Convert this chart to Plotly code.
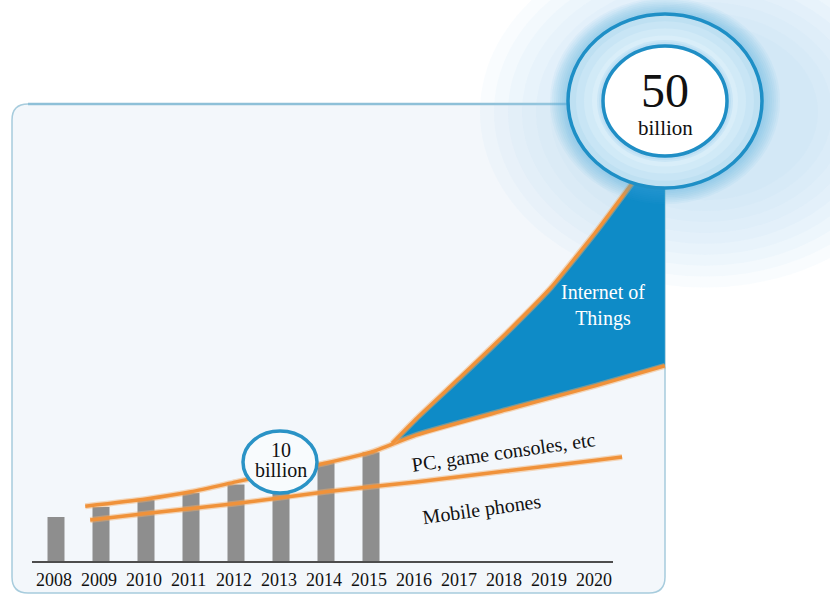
import plotly.graph_objects as go

# ---------------- data ----------------
bar_years = [2008, 2009, 2010, 2011, 2012, 2013, 2014, 2015]
bar_devices = [5.0, 6.1, 6.9, 7.7, 8.6, 9.9, 11.0, 12.2]          # billions (approx.)

pc_years = [2008.65, 2010, 2011, 2012, 2013, 2014, 2015, 2016, 2018, 2020, 2021.53]
pc_values = [6.2, 7.0, 7.8, 8.9, 10.0, 11.0, 12.2, 14.1, 16.9, 19.6, 21.8]

iot_years = [2015.47, 2016, 2017, 2018, 2019, 2020, 2020.82]
iot_values = [13.2, 15.9, 20.6, 25.4, 30.5, 36.7, 42.2]

mobile_years = [2008.76, 2010, 2012, 2014, 2016, 2018, 2020, 2020.58]
mobile_values = [4.67, 5.4, 6.5, 7.8, 8.9, 10.1, 11.3, 11.67]

tick_years = list(range(2008, 2021))
tick_labels = [str(y) for y in tick_years]

# ---------------- geometry helpers (pixel -> data) ----------------
W, H = 830, 594
X0_PX, PX_PER_YEAR = 56, 45
BASE_PX, PX_PER_B = 562, 9


def X(px):
    return 2008 + (px - X0_PX) / PX_PER_YEAR


def Y(py):
    return (BASE_PX - py) / PX_PER_B


def ellipse(cx, cy, rx, ry, fill, line_color=None, lw=0, opacity=1.0, layer="above"):
    return dict(type="circle", xref="x", yref="y",
                x0=X(cx - rx), x1=X(cx + rx), y0=Y(cy + ry), y1=Y(cy - ry),
                fillcolor=fill, opacity=opacity, layer=layer,
                line=dict(width=lw, color=line_color or "rgba(0,0,0,0)"))


ORANGE = "#F0923A"
BLUE = "#0E8BC7"
RING = "#1E8FC6"
FONT = "Liberation Serif"

fig = go.Figure()

# IoT filled area (between IoT curve and PC line)
lower = [(x, y) for x, y in zip(pc_years, pc_values) if x >= 2016][::-1]
poly_x = iot_years + [2021.53, 2021.53] + [p[0] for p in lower] + [iot_years[0]]
poly_y = iot_values + [45, pc_values[-1]] + [p[1] for p in lower] + [iot_values[0]]
fig.add_trace(go.Scatter(x=poly_x, y=poly_y, fill="toself", fillcolor=BLUE,
                         mode="lines", line=dict(width=0, color=BLUE),
                         hoverinfo="skip", showlegend=False))

# bars
fig.add_trace(go.Bar(x=bar_years, y=bar_devices, width=17 / PX_PER_YEAR,
                     marker=dict(color="#8E8E8E", line=dict(width=0)),
                     showlegend=False, hoverinfo="skip"))

# lines (soft halo + core)
for xs, ys, sm in [(pc_years, pc_values, 0.6),
                   (iot_years, iot_values, 0.4),
                   (mobile_years, mobile_values, 0.5)]:
    fig.add_trace(go.Scatter(x=xs, y=ys, mode="lines",
                             line=dict(color="rgba(245,170,100,0.45)", width=6, shape="spline", smoothing=sm),
                             hoverinfo="skip", showlegend=False))
    fig.add_trace(go.Scatter(x=xs, y=ys, mode="lines",
                             line=dict(color=ORANGE, width=3.5, shape="spline", smoothing=sm),
                             hoverinfo="skip", showlegend=False))

shapes = []

# panel (rounded rectangle)
L, T, R, B, r = 12, 104, 665, 593, 16
path = (f"M {X(L + r)},{Y(T)} L {X(R - r)},{Y(T)} Q {X(R)},{Y(T)} {X(R)},{Y(T + r)} "
        f"L {X(R)},{Y(B - r)} Q {X(R)},{Y(B)} {X(R - r)},{Y(B)} "
        f"L {X(L + r)},{Y(B)} Q {X(L)},{Y(B)} {X(L)},{Y(B - r)} "
        f"L {X(L)},{Y(T + r)} Q {X(L)},{Y(T)} {X(L + r)},{Y(T)} Z")
shapes.append(dict(type="path", path=path, xref="x", yref="y", layer="below",
                   fillcolor="#F3F7FB", line=dict(color="#A7CCDD", width=1.5)))
# stronger top border
shapes.append(dict(type="line", xref="x", yref="y", layer="below",
                   x0=X(L + r), x1=X(R), y0=Y(T), y1=Y(T),
                   line=dict(color="#8EC0D8", width=2.5)))

# light glow wash at top right
for rx in range(225, 100, -14):
    shapes.append(ellipse(705, 112, rx, rx * 0.78, "#A9D6EF", opacity=0.07, layer="below"))

# baseline axis line
shapes.append(dict(type="line", xref="x", yref="y", x0=X(32), x1=X(613), y0=0, y1=0,
                   line=dict(color="#4D4D4D", width=2), layer="above"))

# halo around big circle
CX, CY, ORX, ORY = 665, 101, 97, 87
for k in range(18, 0, -2):
    shapes.append(ellipse(CX, CY, ORX + k, ORY + k * 0.9, "#3DA5DC", opacity=0.06))
# outer ring
shapes.append(ellipse(CX, CY, ORX, ORY, "#BEE0F2", RING, 3.5))
for k, c in [(8, "#C8E5F5"), (16, "#D1EAF7"), (24, "#D9EEF9")]:
    shapes.append(ellipse(CX, CY, ORX - k, ORY - k * 0.9, c))
# inner halo + inner circle
for k in range(6, 0, -2):
    shapes.append(ellipse(CX, CY, 62 + k, 55 + k, "#4AAADD", opacity=0.10))
shapes.append(ellipse(CX, CY, 62, 55, "#FFFFFF", "#1F8EC5", 3.5))

# small "10 billion" circle
shapes.append(ellipse(280, 462, 37, 31, "#F8FBFD", "#2A93C6", 3.5))

annotations = []
for yv, lab in zip(tick_years, tick_labels):
    annotations.append(dict(x=yv - 0.05, y=Y(580), text=lab, showarrow=False,
                            font=dict(family=FONT, size=18, color="#111111")))

annotations += [
    dict(x=X(665), y=Y(90), text="50", showarrow=False,
         font=dict(family=FONT, size=48, color="#111111")),
    dict(x=X(665), y=Y(128), text="billion", showarrow=False,
         font=dict(family=FONT, size=21, color="#111111")),
    dict(x=X(281), y=Y(450), text="10", showarrow=False,
         font=dict(family=FONT, size=20, color="#111111")),
    dict(x=X(281), y=Y(470), text="billion", showarrow=False,
         font=dict(family=FONT, size=20, color="#111111")),
    dict(x=X(603), y=Y(305), text="Internet of<br>Things", showarrow=False,
         font=dict(family=FONT, size=20, color="#FFFFFF")),
    dict(x=X(503), y=Y(452), text="PC, game consoles, etc", showarrow=False, textangle=-8,
         font=dict(family=FONT, size=20, color="#111111")),
    dict(x=X(482), y=Y(509), text="Mobile phones", showarrow=False, textangle=-8,
         font=dict(family=FONT, size=20, color="#111111")),
]

fig.update_layout(
    width=W, height=H, autosize=False,
    margin=dict(l=0, r=0, t=0, b=0, pad=0),
    paper_bgcolor="#FFFFFF", plot_bgcolor="rgba(0,0,0,0)",
    xaxis=dict(range=[X(0), X(W)], visible=False, fixedrange=True),
    yaxis=dict(range=[Y(H), Y(0)], visible=False, fixedrange=True),
    shapes=shapes, annotations=annotations, barmode="overlay",
    showlegend=False,
)

fig.write_html("out.html", config={"displayModeBar": False},
               post_script="document.body.style.margin='0';document.body.style.overflow='hidden';")
